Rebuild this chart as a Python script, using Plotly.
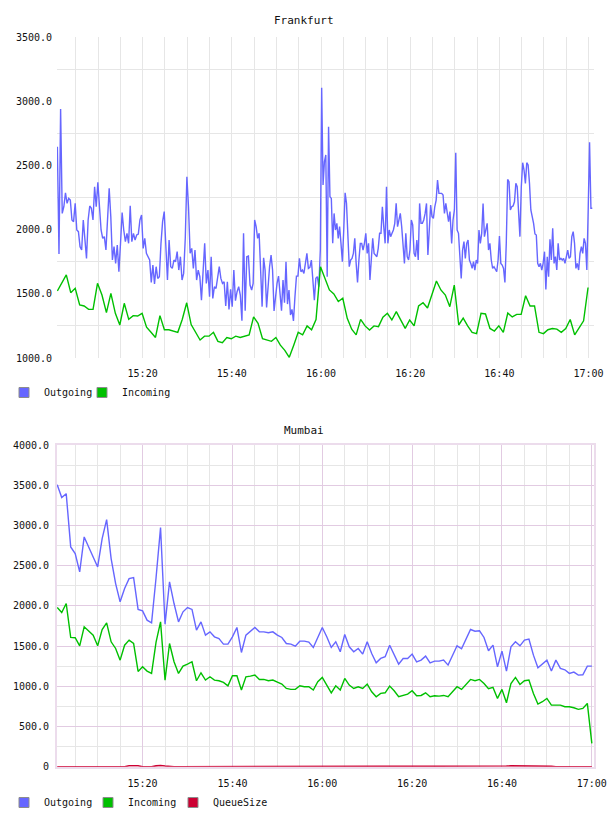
import plotly.graph_objects as go
import pandas as pd

DAY = "2013-01-01 "
FONT = "DejaVu Sans Mono"

# ---------------- Frankfurt ----------------
# Outgoing is sampled densely; given as segments (start, end, values)
FRA_OUT_A = [2646,1810,2939,2126,2178,2287,2204,2243,2230,2075,2062,2204,1997,1984,1867,1841,2075,1945,1776,2075,
             2184,2166,2075,2334,2178,2368,2178,1997,1932,1945,1841,2075,2321,2101,1763,1867,1737,1880,1672,1893,
             2132,1997,1906,1971,1893,2186,1906,1971,1919,1958,1966,2075,2114,1854,1932,1815,1789,1763,1589,1724,
             1576,1711,1620,1633,1893,2062,2140,1893,1607,1919,1711,1698,1763,1750,1828,1685,1789,1607,1659,1932,
             2412,2178,1815,1854,1698,1841,1607,1685,1633,1451,1685,1893,1581,1685,1477,1789,1464,1555,1542,1633,
             1711,1620,1581,1594,1405,1594,1379,1534,1400,1685,1446,1516,1555,1490,1290,1971,1368,1789,1794,1568]
FRA_OUT_B1 = [1529,1581,2075,2023,1932,1971,1737,1400,1781,1685,1394,1581,1711,1802,1685,1366,1477,1581,1638,1477,
              1368,1607,1431,1750,1420,1529,1335,1379,1288,1477,1638,1638,1776,1672,1685,1659,1737,1815,1698,1706,
              1763,1633,1451,1620,1633,1555,1841]
FRA_OUT_B2 = [3105,2347,2529,2581,1633,2801,2256,2243,1893,2126,1997,2049,1932,2023,1893,1750,1997,2287,2204,1893,
              1711,1763,1776,1815,1932,1737,1589,1763,1893,1893,1841,1893,1971,1815,1893,1607,1802,1932,1815,1802,
              1789,1854,1971,1971,2178,2023,1893,2334,1893,1997,1945,1971,1997,2049,2204,2023,2075,2126,2023,1867,
              1737,1971,1789,1763,1841,2075,2036,1815,1789,1919,1763,2204,2049,2049,2075,2126,2204,1802,1997,2191,
              2101,2088,2178,2230,2386,2282,2282,2282,2269,2126,2204,2126,2062,2140]
FRA_OUT_C = [1893,2075,2153,2599,1997,1971,1789,1620,1841,1906,1776,1893,1919,1763,1737,1698,1750,1685,1763,1737,
             1997,1893,1971,2204,1945,1997,2049,1841,1893,1763,1698,1711,1685,1672,1763,1950,1737,1724,1698,1589,
             1893,2391,2373,2153,2178,2184,2217,2360,2334,2153,1945,2334,2521,2464,2360,2521,2503,2360,2153,2101,
             2049,1966,1958,1737,1711,1737,1685,1737,1828,1534,1789,1633,1924,1763,2010,1737,1789,1685,1893,1763,
             1776,1763,1776,1737,1789,1841,1776,1789,1945,1984,1893,1698,1737,1685,1815,1867,1815,1932,1893,1685,
             2153,2680,2166,2166]
FRA_OUT_SEGMENTS = [
    ("15:00:53", "15:44:05", FRA_OUT_A),
    ("15:44:27", "15:59:51", FRA_OUT_B1),
    ("16:00:09", "16:28:55", FRA_OUT_B2),
    ("16:29:18", "17:00:50", FRA_OUT_C),
]
# Incoming: one value per minute, first sample at 15:00:53
FRA_IN_START = "15:00:53"
FRA_IN = [1522,1585,1647,1509,1543,1413,1405,1379,1379,1582,1491,1353,1504,1348,1257,1426,1301,1330,1327,1348,
          1240,1200,1160,1330,1220,1220,1210,1200,1300,1430,1260,1200,1140,1170,1170,1200,1130,1120,1160,1150,
          1170,1160,1170,1180,1320,1270,1150,1140,1130,1160,1100,1060,1005,1100,1200,1180,1250,1220,1300,1711,
          1621,1530,1499,1440,1465,1309,1224,1180,1301,1250,1218,1250,1244,1317,1348,1296,1361,1296,1231,1296,
          1250,1405,1430,1390,1500,1600,1530,1490,1400,1568,1257,1310,1250,1200,1190,1348,1343,1230,1210,1250,
          1200,1350,1320,1340,1340,1485,1405,1405,1200,1190,1220,1230,1225,1200,1230,1300,1180,1230,1290,1549]
FRA_RANGE = ("15:00:48", "17:01:13")
FRA_YTICKS = [1000, 1500, 2000, 2500, 3000, 3500]

# ---------------- Mumbai ----------------
MUM_START = "15:01:00"
MUM_OUT = [3507,3346,3395,2733,2650,2422,2857,2733,2609,2484,2836,3072,2588,2277,2050,2215,2339,2352,1955,1938,
           1822,1789,2350,2973,1772,2298,2029,1801,1926,1979,1955,1698,1801,1636,1677,1615,1594,1524,1524,1615,
           1731,1420,1636,1690,
           1731,1677,1677,1665,1677,1636,1607,1532,1524,1499,1561,1561,1549,1483,1615,1731,1615,1483,1553,1429,
           1644,1491,1429,1470,1400,1553,1408,1292,1346,1367,1511,1387,1276,1346,1346,1400,1304,1325,1375,1292,
           1313,1313,1325,1263,
           1379,1503,1466,1582,1706,1685,1690,1607,1441,1511,1242,1437,1189,1491,1553,1503,1574,1586,1387,1230,
           1276,1325,1189,1325,1222,1205,1160,1176,1139,1143,1251,1251]
MUM_IN = [1979,1917,2029,1607,1603,1503,1739,1690,1636,1503,1706,1789,1553,1470,1325,1511,1574,1532,1184,1242,
          1189,1160,1550,1801,1077,1532,1305,1160,1251,1276,1305,1069,1168,1077,1118,1077,1069,1048,1006,1131,
          1131,953,1118,1126,
          1139,1085,1085,1069,1077,1052,1027,973,961,961,1006,994,994,953,1056,1110,1015,919,1006,953,
          1098,1015,973,994,973,1027,932,870,911,919,1002,944,870,886,903,944,882,886,919,870,
          882,878,886,870,
          932,994,961,1023,1085,1069,1085,1035,969,986,849,961,795,1035,1110,1023,1069,1077,911,779,
          808,849,766,766,766,746,746,733,713,725,787,290]
MUM_QUEUE = [0,0,0,0,0,0,0,0,0,0,0,0,0,0,0,0,12,15,12,0,0,0,10,14,8,0,0,0,0,0,
             0,0,0,0,0,0,0,0,0,0,0,0,0,0,0,0,0,0,0,0,0,0,0,0,0,0,0,0,0,0,
             0,0,0,0,0,0,0,0,0,0,0,0,0,0,0,0,0,0,0,0,0,0,0,0,0,0,0,0,0,0,
             0,0,0,0,0,0,0,0,0,5,8,10,10,12,12,12,12,10,10,8,6,0,0,0,0,0,0,0,0,0]
MUM_RANGE = ("15:00:57", "17:00:29")
MUM_YTICKS = [0, 500, 1000, 1500, 2000, 2500, 3000, 3500, 4000]

C_OUT = "#6666ff"
C_IN = "#00c000"
C_Q = "#cc0033"

def ts(s):
    return pd.Timestamp(DAY + s)

fra_out_t, fra_out_v = [], []
for a, b, vals in FRA_OUT_SEGMENTS:
    fra_out_t += list(pd.date_range(ts(a), ts(b), periods=len(vals)))
    fra_out_v += vals
fra_in_t = pd.date_range(ts(FRA_IN_START), periods=len(FRA_IN), freq="1min")
mum_t = pd.date_range(ts(MUM_START), periods=len(MUM_OUT), freq="1min")

fig = go.Figure()
fig.add_trace(go.Scatter(x=fra_out_t, y=fra_out_v, mode="lines", line=dict(color=C_OUT, width=1.4),
                         xaxis="x", yaxis="y", showlegend=False))
fig.add_trace(go.Scatter(x=fra_in_t, y=FRA_IN, mode="lines", line=dict(color=C_IN, width=1.4),
                         xaxis="x", yaxis="y", showlegend=False))
fig.add_trace(go.Scatter(x=mum_t, y=MUM_QUEUE, mode="lines", line=dict(color=C_Q, width=1.6),
                         xaxis="x2", yaxis="y2", showlegend=False))
fig.add_trace(go.Scatter(x=mum_t, y=MUM_OUT, mode="lines", line=dict(color=C_OUT, width=1.4),
                         xaxis="x2", yaxis="y2", showlegend=False))
fig.add_trace(go.Scatter(x=mum_t, y=MUM_IN, mode="lines", line=dict(color=C_IN, width=1.4),
                         xaxis="x2", yaxis="y2", showlegend=False))

W, H = 608, 816
LEG_FONT = dict(family=FONT, size=10, color="#111")

# one legend per entry so each swatch sits where the reference has it
LEGEND_ITEMS = [
    ("Outgoing", C_OUT, 4, 378),
    ("Incoming", C_IN, 82, 378),
    ("Outgoing", C_OUT, 4, 788),
    ("Incoming", C_IN, 88, 788),
    ("QueueSize", C_Q, 173, 788),
]
legend_layout = {}
for i, (name, color, lx, ly) in enumerate(LEGEND_ITEMS):
    key = "legend" if i == 0 else f"legend{i + 1}"
    fig.add_trace(go.Scatter(x=[None], y=[None], mode="markers", name=name, legend=key,
                             marker=dict(symbol="square", size=10, color=color,
                                         line=dict(color="#8c8c8c", width=1)),
                             xaxis="x", yaxis="y"))
    legend_layout[key] = dict(orientation="h", x=lx / W, xanchor="left", y=1 - ly / H, yanchor="top",
                              font=LEG_FONT, bgcolor="rgba(0,0,0,0)", borderwidth=0)

tick_font = dict(family=FONT, size=10, color="#111")
GRID = "#e6e6e6"
PINK = "#e2cbe2"

def yfmt(v):
    return "0" if v == 0 else f"{v:.1f}"

fig.update_layout(
    width=W, height=H, margin=dict(l=0, r=0, t=0, b=0, autoexpand=False),
    paper_bgcolor="white", plot_bgcolor="white",
    font=dict(family=FONT, size=10, color="#111"),
    xaxis=dict(domain=[57 / W, 594 / W], anchor="y", type="date", automargin=False,
               range=[ts(FRA_RANGE[0]), ts(FRA_RANGE[1])],
               tick0=ts("15:00:00"), dtick=20 * 60000, tickformat="%H:%M",
               showgrid=True, gridcolor=GRID, gridwidth=1, zeroline=False, showline=False,
               ticks="", tickfont=tick_font, ticklabelstandoff=8,
               minor=dict(tick0=ts("15:00:00"), dtick=5 * 60000, showgrid=True, gridcolor=GRID, gridwidth=1)),
    yaxis=dict(domain=[1 - 358 / H, 1 - 37 / H], anchor="x", range=[1000, 3500], automargin=False,
               tickmode="array", tickvals=FRA_YTICKS, ticktext=[yfmt(v) for v in FRA_YTICKS],
               showgrid=False, zeroline=False, showline=False, ticks="", tickfont=tick_font,
               ticklabelstandoff=4,
               minor=dict(tickmode="linear", tick0=1250, dtick=500, showgrid=True, gridcolor=GRID, gridwidth=1)),
    xaxis2=dict(domain=[57 / W, 594 / W], anchor="y2", type="date", automargin=False,
                range=[ts(MUM_RANGE[0]), ts(MUM_RANGE[1])],
                tick0=ts("15:00:00"), dtick=20 * 60000, tickformat="%H:%M",
                showgrid=True, gridcolor=PINK, gridwidth=1, zeroline=False,
                showline=True, linecolor="#ecdcec", linewidth=2, mirror=True,
                ticks="", tickfont=tick_font, ticklabelstandoff=6,
                minor=dict(tick0=ts("15:00:00"), dtick=5 * 60000, showgrid=True, gridcolor=GRID, gridwidth=1)),
    yaxis2=dict(domain=[1 - 766.7 / H, 1 - 445 / H], anchor="x2", range=[0, 4000], automargin=False,
                tickmode="array", tickvals=MUM_YTICKS, ticktext=[yfmt(v) for v in MUM_YTICKS],
                showgrid=True, gridcolor=PINK, gridwidth=1, zeroline=False,
                showline=True, linecolor="#ecdcec", linewidth=2, mirror=True,
                ticks="", tickfont=tick_font, ticklabelstandoff=4,
                minor=dict(tickmode="linear", tick0=250, dtick=500, showgrid=True, gridcolor=GRID, gridwidth=1)),
    annotations=[
        dict(text="Frankfurt", x=0.5, y=1 - 20 / H, xref="paper", yref="paper", showarrow=False,
             font=dict(family=FONT, size=11, color="#111"), xanchor="center", yanchor="middle"),
        dict(text="Mumbai", x=0.5, y=1 - 430 / H, xref="paper", yref="paper", showarrow=False,
             font=dict(family=FONT, size=11, color="#111"), xanchor="center", yanchor="middle"),
    ],
    **legend_layout,
)

fig.write_html("out.html")
